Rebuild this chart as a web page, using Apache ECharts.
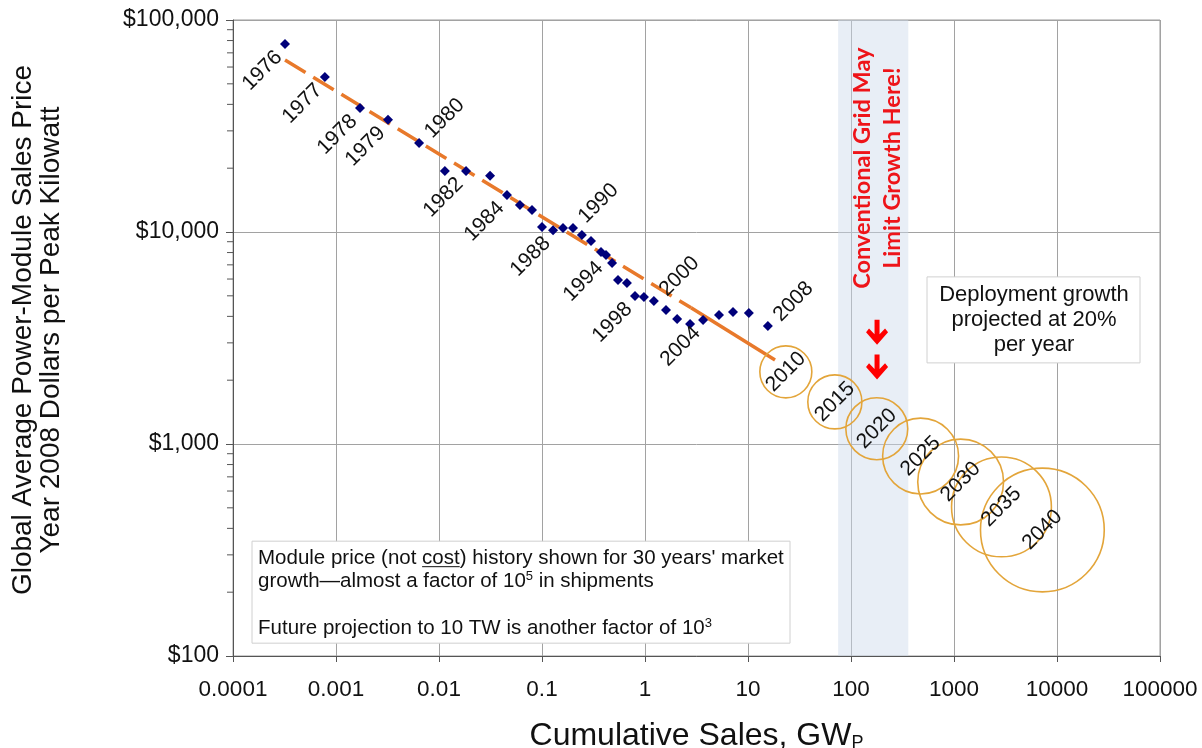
<!DOCTYPE html>
<html><head><meta charset="utf-8">
<script src="https://cdn.jsdelivr.net/npm/echarts@6/dist/echarts.min.js"></script>
<style>html,body{margin:0;padding:0;background:#fff}#c{width:1202px;height:748px}</style>
</head><body><div id="c"></div>
<script>
// ---------- DATA ----------
const years  = [1976,1977,1978,1979,1980,1981,1982,1983,1984,1985,1986,1987,1988,1989,1990,1991,1992,1993,1994,1995,1996,1997,1998,1999,2000,2001,2002,2003,2004,2005,2006,2007,2008];
const sales  = [0.00032,0.00078,0.00171,0.0032,0.0064,0.0114,0.0183,0.0313,0.0457,0.0611,0.080,0.100,0.128,0.160,0.200,0.244,0.299,0.374,0.418,0.479,0.547,0.668,0.80,0.977,1.22,1.60,2.05,2.74,3.66,5.23,7.15,10.2,15.6];
const prices = [77000,53800,38400,33800,26300,19400,19400,18400,14950,13400,12700,10560,10200,10450,10450,9680,9070,8050,7790,7140,5940,5740,4990,4930,4730,4290,3890,3680,3850,4060,4190,4150,3600];
const labeledBelow = [1976,1977,1978,1979,1982,1984,1988,1994,1998,2004];
const labeledAbove = [1980,1990,2000,2008];
const trendDashed = [[0.00032,64800],[2.8,4390]];
const trendSolid  = [[2.8,4390],[18.3,2490]];
const projYears  = [2010,2015,2020,2025,2030,2035,2040];
const projSales  = [23.3,69.7,178,474,1160,2890,7210];
const projPrices = [2190,1580,1180,877,662,505,393];
const projRelSize = [1.00,1.04,1.19,1.46,1.65,1.92,2.38];
const gridLimitBand = [75,360];
const arrowPoints = [[179,3370],[179,2310]];
const xTickLabels = ['0.0001','0.001','0.01','0.1','1','10','100','1000','10000','100000'];
const yTickLabels = ['$100','$1,000','$10,000','$100,000'];
const yMinorTicks = [200,300,400,500,600,700,800,900,2000,3000,4000,5000,6000,7000,8000,9000,20000,30000,40000,50000,60000,70000,80000,90000];

// ---------- CHART ----------
const FONT = 'Liberation Sans, Arial, sans-serif';
const chart = echarts.init(document.getElementById('c'), null, {renderer:'canvas'});

const labelBase = {show:true, rotate:45, verticalAlign:'middle', fontSize:21, color:'#111', fontFamily:FONT, opacity:1};
const pointData = years.map((y,i)=>{
  const it = {value:[sales[i],prices[i]]};
  if (labeledBelow.includes(y)) {
    it.label = Object.assign({}, labelBase, {formatter:String(y), align:'right', position:[-1,15]});
  } else if (labeledAbove.includes(y)) {
    it.label = Object.assign({}, labelBase, {formatter:String(y), align:'left', position:[14,-3]});
  }
  return it;
});

const option = {
  animation:false,
  backgroundColor:'#fff',
  textStyle:{fontFamily:FONT},
  grid:{left:233,right:42,top:20,bottom:92,show:true,borderColor:'#9a9a9a',borderWidth:1,containLabel:false,outerBoundsMode:'none'},
  xAxis:{
    type:'log', logBase:10, min:0.0001, max:100000, splitNumber:9,
    axisLine:{lineStyle:{color:'#555',width:1}},
    axisTick:{show:true,length:6,lineStyle:{color:'#555'}},
    axisLabel:{formatter:(v,i)=>xTickLabels[i], fontSize:22.5, color:'#111', margin:22, fontFamily:FONT},
    splitLine:{show:true,lineStyle:{color:'#a2a2a2',width:1}},
    name:'Cumulative Sales, GW{sub|P}', nameLocation:'middle', nameGap:64,
    nameTextStyle:{fontSize:32,color:'#111',fontFamily:FONT,
      rich:{sub:{fontSize:18,color:'#111',fontFamily:FONT,padding:[14,0,0,0]}}}
  },
  yAxis:{
    type:'log', logBase:10, min:100, max:100000, splitNumber:3,
    axisLine:{lineStyle:{color:'#555',width:1}},
    axisTick:{show:true,length:7,lineStyle:{color:'#555'}},
    axisLabel:{formatter:(v,i)=>yTickLabels[i], fontSize:23, color:'#111', margin:14, fontFamily:FONT},
    splitLine:{show:true,lineStyle:{color:'#a2a2a2',width:1}},
    name:'Global Average Power-Module Sales Price\nYear 2008 Dollars per Peak Kilowatt',
    nameLocation:'middle', nameGap:168, nameRotate:90,
    nameTextStyle:{fontSize:28,lineHeight:28,color:'#111',fontFamily:FONT,align:'center',padding:[0,0,0,16]}
  },
  series:[
    { type:'line', data:[], silent:true,
      markArea:{silent:true, itemStyle:{color:'rgba(205,218,236,0.45)'},
        data:[[{xAxis:gridLimitBand[0],yAxis:100},{xAxis:gridLimitBand[1],yAxis:100000}]]}
    },
    { type:'line', data:trendDashed, symbol:'none', silent:true, z:3,
      lineStyle:{color:'#E8792B',width:3.5,type:[24,9],cap:'butt'} },
    { type:'line', data:trendSolid, symbol:'none', silent:true, z:3,
      lineStyle:{color:'#E8792B',width:3.5} },
    { type:'scatter', data:pointData, symbol:'diamond', symbolSize:10, z:4,
      itemStyle:{color:'#00007A',opacity:1},
      label:{show:false,fontSize:21,color:'#111',fontFamily:FONT} },
    { type:'scatter', z:5,
      data:projYears.map((y,i)=>({value:[projSales[i],projPrices[i],projRelSize[i]],name:String(y)})),
      symbol:'circle', symbolSize:(v)=>52*v[2],
      itemStyle:{color:'rgba(0,0,0,0)',borderColor:'#E3A53A',borderWidth:1.6,opacity:1},
      label:{show:true,position:'inside',formatter:(p)=>p.name,rotate:45,fontSize:21,color:'#111',fontFamily:FONT} },
    { type:'scatter', z:6, data:arrowPoints, symbolSize:[22,25],
      symbol:'path://M8.5,0 L13.5,0 L13.5,14 L19,8.5 L22,12 L11,24 L0,12 L3,8.5 L8.5,14 Z',
      itemStyle:{color:'#FF0000',opacity:1} },
    { type:'scatter', z:6, clip:false, silent:true,
      data:yMinorTicks.map(v=>[0.0001,v]), symbol:'rect', symbolSize:[6,1], symbolOffset:[-3,0],
      itemStyle:{color:'#555',opacity:1} }
  ]
};
chart.setOption(option);

// ---------- ANNOTATIONS (anchored in data space) ----------
function px(x,y){return chart.convertToPixel({gridIndex:0},[x,y]);}
const redC = px(179,20000);
const depC = px(5980,3850);
const noteTL = px(0.000153,348);
const noteFont = '20.5px Liberation Sans, Arial, sans-serif';
const meas = document.createElement('canvas').getContext('2d');
meas.font = noteFont;
const preW = meas.measureText('Module price (not ').width;
const costW = meas.measureText('cost').width;
const noteTextX = noteTL[0]+6, noteTextY = noteTL[1]+5;

chart.setOption({graphic:[
  {type:'text', x:redC[0], y:redC[1], rotation:Math.PI/2, z:50,
   style:{text:'Conventional Grid May\nLimit Growth Here!', font:'bold 23.5px Lato, Liberation Sans, sans-serif',
     fill:'#EE1419', align:'center', verticalAlign:'middle', lineHeight:30}},
  {type:'rect', x:depC[0]-107, y:depC[1]-43, z:50,
   shape:{width:213,height:86}, style:{fill:'#fff',stroke:'#d0d0d0',lineWidth:1}},
  {type:'text', x:depC[0], y:depC[1], z:51,
   style:{text:'Deployment growth\nprojected at 20%\nper year', font:'22px Liberation Sans, Arial, sans-serif',
     fill:'#111', align:'center', verticalAlign:'middle', lineHeight:25}},
  {type:'rect', x:noteTL[0], y:noteTL[1], z:50,
   shape:{width:538,height:102}, style:{fill:'#fff',stroke:'#d0d0d0',lineWidth:1}},
  {type:'text', x:noteTextX, y:noteTextY, z:51,
   style:{text:"Module price (not cost) history shown for 30 years' market\ngrowth\u2014almost a factor of 10{sup|5} in shipments\n\nFuture projection to 10 TW is another factor of 10{sup|3}",
     font:noteFont, fill:'#111', align:'left', verticalAlign:'top', lineHeight:23.5,
     rich:{sup:{fontSize:13,fill:'#111',verticalAlign:'top',lineHeight:23.5,fontFamily:'Liberation Sans, Arial, sans-serif'}}}},
  {type:'line', z:52, shape:{x1:noteTextX+preW, y1:noteTextY+20.5, x2:noteTextX+preW+costW, y2:noteTextY+20.5},
   style:{stroke:'#111',lineWidth:1}}
]});
</script>
</body></html>
